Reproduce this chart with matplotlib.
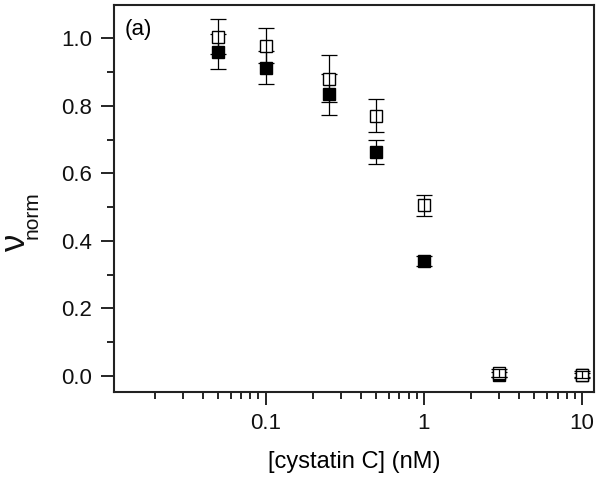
import matplotlib
matplotlib.use("Agg")
import matplotlib.pyplot as plt
from matplotlib.ticker import LogLocator, FixedLocator, MultipleLocator, NullFormatter

plt.rcParams['font.family'] = ['Liberation Sans', 'DejaVu Sans']

conc = [0.05, 0.1, 0.25, 0.5, 1, 3, 10]
open_vals = [1.004, 0.978, 0.880, 0.771, 0.506, 0.008, 0.004]
open_err = [0.052, 0.051, 0.070, 0.050, 0.031, 0.012, 0.010]
filled_vals = [0.960, 0.912, 0.834, 0.664, 0.341, 0.004, 0.002]
filled_err = [0.052, 0.049, 0.060, 0.035, 0.015, 0.008, 0.006]

W, H = 600, 478
fig = plt.figure(figsize=(W / 100, H / 100), dpi=100)
ax = fig.add_axes([0.19, 0.18, 0.80, 0.8095])

# filled series
ax.errorbar(conc, filled_vals, yerr=filled_err, fmt='none', ecolor='black',
            elinewidth=0.9, capsize=6, capthick=0.9, zorder=2)
ax.plot(conc, filled_vals, 's', color='black', markersize=8, zorder=3)
# open series
ax.errorbar(conc, open_vals, yerr=open_err, fmt='none', ecolor='black',
            elinewidth=0.9, capsize=6, capthick=0.9, zorder=4)
ax.plot(conc, open_vals, 's', markerfacecolor='white', markeredgecolor='black',
        markeredgewidth=1.0, markersize=8, zorder=3.5)

ax.set_xscale('log')
ax.set_xlim(0.011, 11.9)
ax.set_ylim(-0.047, 1.098)

ax.xaxis.set_major_locator(FixedLocator([0.1, 1, 10]))
ax.set_xticklabels(['0.1', '1', '10'])
ax.xaxis.set_minor_locator(LogLocator(base=10, subs=[2, 3, 4, 5, 6, 7, 8, 9]))
ax.xaxis.set_minor_formatter(NullFormatter())
ax.yaxis.set_minor_locator(MultipleLocator(0.1))
ax.set_yticks([0.0, 0.2, 0.4, 0.6, 0.8, 1.0])
ax.set_yticklabels(['0.0', '0.2', '0.4', '0.6', '0.8', '1.0'])

ax.tick_params(which='major', direction='out', length=9.5, width=1.2, labelsize=16,
               pad=6, labelcolor='#111111')
ax.tick_params(which='minor', direction='out', length=5, width=1.2)
ax.tick_params(top=False, right=False, which='both')
for s in ax.spines.values():
    s.set_linewidth(1.5)
    s.set_color('#222222')

ax.set_xlabel('[cystatin C] (nM)', fontsize=17, labelpad=12)

# y label: large nu with "norm" subscript
fig.text(25 / W, 1 - 242.5 / H, 'ν', fontsize=25, rotation=90,
         rotation_mode='anchor', ha='center', va='baseline', color='#111111')
fig.text(38 / W, 1 - 215 / H, 'norm', fontsize=15, rotation=90,
         rotation_mode='anchor', ha='center', va='baseline', color='#111111')

ax.text(0.022, 0.965, '(a)', transform=ax.transAxes, fontsize=16, va='top', ha='left')

fig.savefig('out.png', dpi=100)
